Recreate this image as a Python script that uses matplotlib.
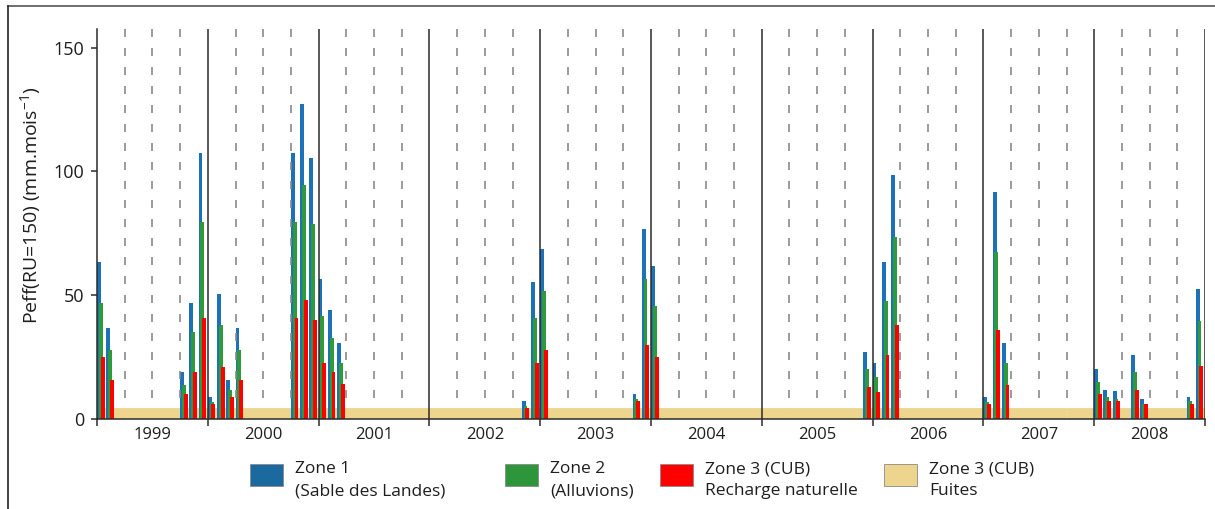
import numpy as np
import matplotlib
matplotlib.use("Agg")
import matplotlib.pyplot as plt
from matplotlib.patches import Rectangle
from matplotlib.lines import Line2D

plt.rcParams['font.family'] = ['Open Sans', 'DejaVu Sans']
plt.rcParams['mathtext.fontset'] = 'custom'
plt.rcParams['mathtext.rm'] = 'Open Sans'
plt.rcParams['mathtext.default'] = 'regular'

# months counted from Jan 1999 (0) to Dec 2008 (119)
years = ['1999', '2000', '2001', '2002', '2003', '2004', '2005', '2006', '2007', '2008']
months = [0, 1, 9, 10, 11,
          12, 13, 14, 15, 21, 22, 23,
          24, 25, 26,
          46, 47,
          48, 58, 59,
          60,
          83,
          84, 85, 86,
          96, 97, 98,
          108, 109, 110, 112, 113, 118, 119]
zone1 = [63.4, 36.7, 18.7, 46.6, 107.4,
         8.8, 50.6, 15.7, 36.7, 107.3, 127.2, 105.5,
         56.4, 43.9, 30.8,
         7.1, 55.4,
         68.6, 9.8, 76.5,
         61.7,
         26.8,
         22.7, 63.4, 98.4,
         8.8, 91.5, 30.8,
         19.9, 11.8, 11.0, 25.6, 8.0, 8.8, 52.4]
zone2 = [46.6, 27.7, 13.8, 34.9, 79.5,
         6.8, 37.8, 11.7, 27.7, 79.4, 94.3, 78.6,
         41.7, 32.7, 22.7,
         5.2, 40.8,
         51.6, 7.9, 56.4,
         45.5,
         19.9,
         16.7, 47.7, 73.4,
         6.8, 67.5, 22.7,
         14.9, 8.8, 7.9, 18.7, 6.1, 7.0, 39.6]
zone3 = [25.0, 15.7, 9.9, 18.7, 40.8,
         6.0, 21.0, 8.8, 15.7, 40.8, 47.8, 39.8,
         22.7, 18.7, 14.0,
         4.4, 22.7,
         27.7, 7.1, 29.7,
         24.9,
         12.9,
         10.9, 25.7, 37.7,
         5.9, 35.7, 13.8,
         9.9, 7.0, 7.0, 11.8, 5.9, 5.9, 21.5]
fuites = [4.4] * 120

labels = [('Zone 1', '(Sable des Landes)'),
          ('Zone 2', '(Alluvions)'),
          ('Zone 3 (CUB)', 'Recharge naturelle'),
          ('Zone 3 (CUB)', 'Fuites')]

c_blue = '#1b72b8'
c_green = '#2f9a3a'
c_red = '#ff0000'
c_tan = '#edd58e'
leg_colors = ['#1a6a9f', '#2e963a', '#ff0000', '#edd58e']

W, H = 1215, 509
fig = plt.figure(figsize=(W / 100, H / 100), dpi=100)
ax = fig.add_axes([97 / W, 1 - 418.7 / H, 1108 / W, (418.7 - 29.3) / H])
ymax = 157.4

m = np.array(months, dtype=float)
ax.bar(np.arange(120), fuites, width=1, align='edge', color=c_tan,
       edgecolor=c_tan, linewidth=0.6, zorder=1)
ax.bar(m, zone1, width=0.42, align='edge', color=c_blue, zorder=2)
ax.bar(m + 0.2, zone2, width=0.42, align='edge', color=c_green, zorder=3)
ax.bar(m + 0.4, zone3, width=0.42, align='edge', color=c_red, zorder=4)

# quarter (dashed) and year (solid) separators
for i in range(len(years)):
    for q in (3, 6, 9):
        x = 12 * i + q
        ax.plot([x, x], [ymax, 4.4], color='#8a8a8a', lw=1.2,
                dashes=(4.8, 6.6), zorder=5)
for i in range(1, len(years) + 1):
    ax.plot([12 * i, 12 * i], [0, ymax], color='#2b2b2b', lw=1.1, zorder=6)

ax.set_xlim(0, 120)
ax.set_ylim(0, ymax)
for s in ('top', 'right'):
    ax.spines[s].set_visible(False)
for s in ('left', 'bottom'):
    ax.spines[s].set_color('#2b2b2b')
    ax.spines[s].set_linewidth(1.1)
    ax.spines[s].set_zorder(7)

ax.set_yticks([0, 50, 100, 150])
ax.tick_params(axis='y', length=4, width=1.1, color='#2b2b2b', pad=5,
               labelsize=13, labelcolor='#1e1e1e')
ax.set_xticks(np.arange(0, 121, 12))
ax.set_xticklabels([])
ax.set_xticks(np.arange(6, 120, 12), minor=True)
ax.set_xticklabels(years, minor=True)
ax.tick_params(axis='x', which='major', length=5, width=1.1, color='#2b2b2b')
ax.tick_params(axis='x', which='minor', length=0, pad=6, labelsize=12,
               labelcolor='#1e1e1e')

fig.text(31 / W, 1 - 205 / H, 'Peff(RU=150) (mm.mois$^{-1}$)', rotation=90,
         ha='center', va='center', fontsize=14, color='#1e1e1e')

# legend drawn by hand
leg_x = [250, 505, 660, 884]
for x, col, (l1, l2) in zip(leg_x, leg_colors, labels):
    fig.add_artist(Rectangle((x / W, 1 - 486 / H), 33 / W, 22 / H,
                             transform=fig.transFigure, facecolor=col,
                             edgecolor='#8a8a8a', lw=0.6))
    fig.text((x + 45) / W, 1 - 473 / H, l1, fontsize=12.5, va='baseline',
             color='#1e1e1e')
    fig.text((x + 45) / W, 1 - 495 / H, l2, fontsize=12.5, va='baseline',
             color='#1e1e1e')

# frame around the figure (top and left only, as cropped)
fig.add_artist(Line2D([7.5 / W, 1], [1 - 6 / H, 1 - 6 / H],
                      transform=fig.transFigure, color='#555555', lw=1.2))
fig.add_artist(Line2D([7.5 / W, 7.5 / W], [0, 1 - 6 / H],
                      transform=fig.transFigure, color='#222222', lw=1.2))

fig.savefig('out.png', dpi=100)
